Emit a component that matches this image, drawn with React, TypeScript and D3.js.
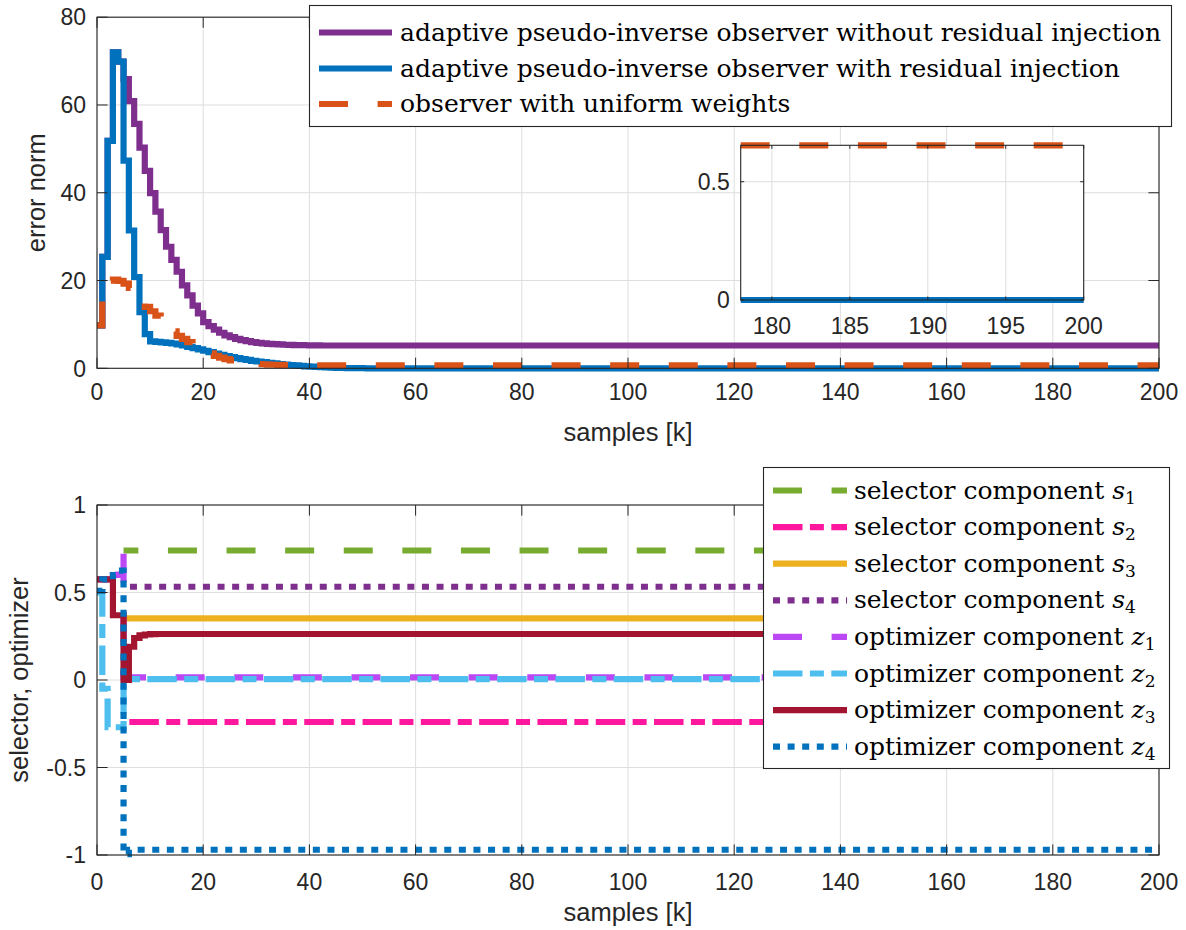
import React from "react";
import * as d3 from "d3";

// ---------------- data ----------------
const kMax = 200;

// top plot: error norm, stairs values for k = 0,1,2,...  then steady value up to k = 200
const errWithoutRI = [
  9.8, 25.4, 51.8, 72.0, 69.9, 65.9, 60.9, 55.7, 50.3, 45.0,
  39.9, 35.7, 31.5, 27.7, 24.7, 22.0, 18.9, 16.6, 14.3, 12.5,
  10.5, 9.6, 8.8, 8.1, 7.5, 7.1, 6.7, 6.4, 6.17, 5.96,
  5.8, 5.67, 5.57, 5.49, 5.43, 5.37, 5.33, 5.3, 5.27, 5.25, 5.23, 5.21,
];
const errWithoutRISteady = 5.2;

const errWithRI = [
  9.8, 25.4, 51.8, 72.0, 69.9, 47.3, 31.4, 20.8, 12.8, 7.8,
  6.15, 6.0, 5.9, 5.8, 5.65, 5.45, 5.2, 4.9, 4.6, 4.3,
  4.0, 3.7, 3.35, 3.05, 2.8, 2.55, 2.3, 2.1, 1.9, 1.7,
  1.55, 1.4, 1.25, 1.1, 0.97, 0.86, 0.75, 0.65, 0.55, 0.46,
  0.38, 0.3, 0.24, 0.18, 0.14, 0.1, 0.07, 0.05, 0.03, 0.02, 0.01,
];
const errWithRISteady = 0.0;

const errUniform = [
  9.8, 19.7, 20.0, 20.2, 19.9, 19.3, 18.3, 16.2, 15.0, 14.0,
  13.0, 12.0, 11.0, 9.8, 8.4, 7.4, 6.7, 5.95, 5.25, 4.6,
  4.0, 3.4, 2.85, 2.45, 2.1, 1.8, 1.5, 1.35, 1.2, 1.08,
  0.98, 0.92, 0.86, 0.81, 0.77, 0.74, 0.72, 0.7, 0.68, 0.67, 0.66,
];
const errUniformSteady = 0.654;

// bottom plot: selector (constant from k = 5) and optimizer components
const selectorStartK = 5;
const selS1 = 0.74;
const selS2 = -0.24;
const selS3 = 0.352;
const selS4 = 0.533;

const optZ1 = [0.575, 0.575, 0.575, 0.6, 0.74];
const optZ1Steady = 0.015;
const optZ2 = [0.5, -0.05, -0.27, -0.27, -0.27];
const optZ2Steady = 0.005;
const optZ3 = [0.575, 0.575, 0.575, 0.37, 0.37, 0.0, 0.19, 0.24, 0.255, 0.26, 0.262];
const optZ3Steady = 0.263;
const optZ4 = [0.51, 0.575, 0.57, 0.6, 0.625, -0.995];
const optZ4Steady = -0.97;

// ticks
const xTicks = [0, 20, 40, 60, 80, 100, 120, 140, 160, 180, 200];
const errTicks = [0, 20, 40, 60, 80];
const selTicks = [-1, -0.5, 0, 0.5, 1];
const insetXTicks = [180, 185, 190, 195, 200];
const insetYTicks = [0, 0.5];
const insetXDomain = [178, 200];
const insetYDomain = [0, 0.654];

const topLegendLabels = [
  "adaptive pseudo-inverse observer without residual injection",
  "adaptive pseudo-inverse observer with residual injection",
  "observer with uniform weights",
];
const botLegendNames = [
  "selector component", "selector component", "selector component", "selector component",
  "optimizer component", "optimizer component", "optimizer component", "optimizer component",
];
const botLegendSym = ["s", "s", "s", "s", "z", "z", "z", "z"];
const botLegendSub = ["1", "2", "3", "4", "1", "2", "3", "4"];

// ---------------- helpers ----------------
type P = [number, number];
function stairs(values: number[], steady: number, start = 0): P[] {
  const pts: P[] = values.map((v, i) => [start + i, v] as P);
  pts.push([start + values.length, steady]);
  pts.push([kMax, steady]);
  return pts;
}
function cutStairs(pts: P[], k0: number, k1: number): P[] {
  const out: P[] = [];
  let cur = pts[0][1];
  for (const p of pts) if (p[0] <= k0) cur = p[1];
  out.push([k0, cur]);
  for (const p of pts) if (p[0] > k0 && p[0] <= k1) out.push(p);
  if (out[out.length - 1][0] < k1) out.push([k1, out[out.length - 1][1]]);
  return out;
}

// ---------------- styles ----------------
const C = {
  axis: "#262626",
  grid: "#dedede",
  purple: "#7E2F8E",
  blue: "#0072BD",
  orange: "#D95319",
  green: "#77AC30",
  pink: "#FF179E",
  yellow: "#EDB120",
  violet: "#BB48F4",
  cyan: "#4DBEEE",
  darkred: "#A2142F",
};
const LW = 6.2;
const DASH = "29 29.6";
const DASHDOT = "29.5 7.4 14 7.4";
const DOT = "7 7.6";
const sansFont = "'Liberation Sans', Arial, Helvetica, sans-serif";
const serifFont = "'DejaVu Serif', serif";
const tickFs = 23;
const labelFs = 25.5;

const fmt = (v: number) => String(v);

type Scale = d3.ScaleLinear<number, number>;

function Frame({ x, y, xt, yt, tl, id, labelsX, labelsY, fs, xLabelDy, yLabelDx }: {
  x: Scale; y: Scale; xt: number[]; yt: number[]; tl: number; id: string;
  labelsX: boolean; labelsY: boolean; fs: number; xLabelDy: number; yLabelDx: number;
}) {
  const [x0, x1] = x.range();
  const [y0, y1] = y.range();
  return (
    <g>
      {xt.map((t) => (
        <g key={id + "xt" + t}>
          <line x1={x(t)} x2={x(t)} y1={y0} y2={y0 - tl} stroke={C.axis} strokeWidth={1} />
          <line x1={x(t)} x2={x(t)} y1={y1} y2={y1 + tl} stroke={C.axis} strokeWidth={1} />
        </g>
      ))}
      {yt.map((t) => (
        <g key={id + "yt" + t}>
          <line x1={x0} x2={x0 + tl} y1={y(t)} y2={y(t)} stroke={C.axis} strokeWidth={1} />
          <line x1={x1} x2={x1 - tl} y1={y(t)} y2={y(t)} stroke={C.axis} strokeWidth={1} />
        </g>
      ))}
      <rect x={x0} y={y1} width={x1 - x0} height={y0 - y1} fill="none" stroke={C.axis} strokeWidth={1.1} />
      {labelsX && xt.map((t) => (
        <text key={id + "xl" + t} x={x(t)} y={y0 + xLabelDy} textAnchor="middle" fontFamily={sansFont} fontSize={fs} fill={C.axis}>{fmt(t)}</text>
      ))}
      {labelsY && yt.map((t) => (
        <text key={id + "yl" + t} x={x0 - yLabelDx} y={y(t) + fs * 0.36} textAnchor="end" fontFamily={sansFont} fontSize={fs} fill={C.axis}>{fmt(t)}</text>
      ))}
    </g>
  );
}

function Grid({ x, y, xt, yt }: { x: Scale; y: Scale; xt: number[]; yt: number[] }) {
  const [x0, x1] = x.range();
  const [y0, y1] = y.range();
  return (
    <g>
      {xt.map((t) => <line key={"gx" + t} x1={x(t)} x2={x(t)} y1={y0} y2={y1} stroke={C.grid} strokeWidth={1} />)}
      {yt.map((t) => <line key={"gy" + t} x1={x0} x2={x1} y1={y(t)} y2={y(t)} stroke={C.grid} strokeWidth={1} />)}
    </g>
  );
}

export default function App() {
  const W = 1186, H = 930;
  const x = d3.scaleLinear().domain([0, kMax]).range([97, 1159]);
  const yTop = d3.scaleLinear().domain([0, 80]).range([368.3, 17.2]);
  const yBot = d3.scaleLinear().domain([-1, 1]).range([855, 505]);
  const xIn = d3.scaleLinear().domain(insetXDomain).range([740.7, 1083.7]);
  const yIn = d3.scaleLinear().domain(insetYDomain).range([300, 145.3]);

  const topSeries = [
    { pts: stairs(errWithoutRI, errWithoutRISteady), color: C.purple, dash: undefined as string | undefined },
    { pts: stairs(errWithRI, errWithRISteady), color: C.blue, dash: undefined as string | undefined },
    { pts: stairs(errUniform, errUniformSteady), color: C.orange, dash: DASH },
  ];
  const botSeries = [
    { pts: stairs([], selS1, selectorStartK), color: C.green, dash: DASH, off: 14.2 },
    { pts: stairs([], selS2, selectorStartK), color: C.pink, dash: DASHDOT, off: 52.5 },
    { pts: stairs([], selS3, selectorStartK), color: C.yellow, dash: undefined as string | undefined, off: 0 },
    { pts: stairs([], selS4, selectorStartK), color: C.purple, dash: DOT, off: 8.2 },
    { pts: stairs(optZ1, optZ1Steady), color: C.violet, dash: DASH, off: 0 },
    { pts: stairs(optZ2, optZ2Steady), color: C.cyan, dash: DASHDOT, off: 0 },
    { pts: stairs(optZ3, optZ3Steady), color: C.darkred, dash: undefined as string | undefined, off: 0 },
    { pts: stairs(optZ4, optZ4Steady), color: C.blue, dash: DOT, off: 0 },
  ];

  const lineTop = d3.line<P>().x((d) => x(d[0])).y((d) => yTop(d[1])).curve(d3.curveStepAfter);
  const lineBot = d3.line<P>().x((d) => x(d[0])).y((d) => yBot(d[1])).curve(d3.curveStepAfter);
  const lineIn = d3.line<P>().x((d) => xIn(d[0])).y((d) => yIn(d[1])).curve(d3.curveStepAfter);

  const pad = 4;
  const [tx0, tx1] = x.range();
  const [ty0, ty1] = yTop.range();
  const [by0, by1] = yBot.range();
  const [ix0, ix1] = xIn.range();
  const [iy0, iy1] = yIn.range();

  const topLeg = { x: 309.5, y: 5.5, w: 862, h: 121, rows: [32.5, 68.5, 104], lx0: 319, lx1: 392, tx: 400 };
  const botLeg = { x: 763.5, y: 467.5, w: 406, h: 301, row0: 490.5, dy: 36.6, lx0: 773, lx1: 847, tx: 854 };

  return (
    <svg width={W} height={H} viewBox={`0 0 ${W} ${H}`} style={{ position: "absolute", left: 0, top: 0, background: "#fff" }}>
      <defs>
        <clipPath id="clipTop"><rect x={tx0 - pad} y={ty1 - pad} width={tx1 - tx0 + 2 * pad} height={ty0 - ty1 + 2 * pad} /></clipPath>
        <clipPath id="clipBot"><rect x={tx0 - pad} y={by1 - pad} width={tx1 - tx0 + 2 * pad} height={by0 - by1 + 2 * pad} /></clipPath>
        <clipPath id="clipIn"><rect x={ix0 - pad} y={iy1 - pad} width={ix1 - ix0 + 2 * pad} height={iy0 - iy1 + 2 * pad} /></clipPath>
      </defs>
      <rect x={0} y={0} width={W} height={H} fill="#fff" />

      {/* ---------- top axes ---------- */}
      <Grid x={x} y={yTop} xt={xTicks} yt={errTicks} />
      <g clipPath="url(#clipTop)">
        {topSeries.map((s, i) => (
          <path key={"ts" + i} d={lineTop(s.pts) || ""} fill="none" stroke={s.color} strokeWidth={LW}
            strokeDasharray={s.dash} strokeLinejoin="miter" strokeLinecap="butt" />
        ))}
      </g>
      <Frame x={x} y={yTop} xt={xTicks} yt={errTicks} tl={10.6} id="top" labelsX labelsY fs={tickFs} xLabelDy={32} yLabelDx={11} />
      <text x={628} y={441} textAnchor="middle" fontFamily={sansFont} fontSize={labelFs} fill={C.axis}>samples [k]</text>
      <text transform={`translate(44.5,${(ty0 + ty1) / 2}) rotate(-90)`} textAnchor="middle" fontFamily={sansFont} fontSize={labelFs} fill={C.axis}>error norm</text>

      {/* top legend */}
      <rect x={topLeg.x} y={topLeg.y} width={topLeg.w} height={topLeg.h} fill="#fff" stroke={C.axis} strokeWidth={1.1} />
      {topSeries.map((s, i) => (
        <g key={"tl" + i}>
          <line x1={topLeg.lx0} x2={topLeg.lx1} y1={topLeg.rows[i]} y2={topLeg.rows[i]} stroke={s.color} strokeWidth={LW} strokeDasharray={s.dash} />
          <text x={topLeg.tx} y={topLeg.rows[i] + 8} fontFamily={serifFont} fontSize={25} fill="#000">{topLegendLabels[i]}</text>
        </g>
      ))}

      {/* inset */}
      <rect x={ix0} y={iy1} width={ix1 - ix0} height={iy0 - iy1} fill="#fff" />
      <Grid x={xIn} y={yIn} xt={insetXTicks} yt={insetYTicks} />
      <g clipPath="url(#clipIn)">
        {topSeries.map((s, i) => (
          <path key={"is" + i} d={lineIn(cutStairs(s.pts, insetXDomain[0], insetXDomain[1])) || ""} fill="none" stroke={s.color}
            strokeWidth={LW} strokeDasharray={s.dash} strokeLinecap="butt" />
        ))}
      </g>
      <Frame x={xIn} y={yIn} xt={insetXTicks} yt={insetYTicks} tl={3.5} id="in" labelsX labelsY fs={tickFs} xLabelDy={34} yLabelDx={11} />

      {/* ---------- bottom axes ---------- */}
      <Grid x={x} y={yBot} xt={xTicks} yt={selTicks} />
      <g clipPath="url(#clipBot)">
        {botSeries.map((s, i) => (
          <path key={"bs" + i} d={lineBot(s.pts) || ""} fill="none" stroke={s.color} strokeWidth={LW}
            strokeDasharray={s.dash} strokeDashoffset={s.off} strokeLinejoin="miter" strokeLinecap="butt" />
        ))}
      </g>
      <Frame x={x} y={yBot} xt={xTicks} yt={selTicks} tl={10.6} id="bot" labelsX labelsY fs={tickFs} xLabelDy={35} yLabelDx={11} />
      <text x={628} y={921} textAnchor="middle" fontFamily={sansFont} fontSize={labelFs} fill={C.axis}>samples [k]</text>
      <text transform={`translate(28,${(by0 + by1) / 2}) rotate(-90)`} textAnchor="middle" fontFamily={sansFont} fontSize={labelFs} fill={C.axis}>selector, optimizer</text>

      {/* bottom legend */}
      <rect x={botLeg.x} y={botLeg.y} width={botLeg.w} height={botLeg.h} fill="#fff" stroke={C.axis} strokeWidth={1.1} />
      {botSeries.map((s, i) => {
        const yy = botLeg.row0 + i * botLeg.dy;
        return (
          <g key={"bl" + i}>
            <line x1={botLeg.lx0} x2={botLeg.lx1} y1={yy} y2={yy} stroke={s.color} strokeWidth={LW} strokeDasharray={s.dash} />
            <text x={botLeg.tx} y={yy + 8} fontFamily={serifFont} fontSize={25} fill="#000">
              {botLegendNames[i] + " "}
              <tspan fontStyle="italic">{botLegendSym[i]}</tspan>
              <tspan fontSize={17} dy={5}>{botLegendSub[i]}</tspan>
            </text>
          </g>
        );
      })}
    </svg>
  );
}
